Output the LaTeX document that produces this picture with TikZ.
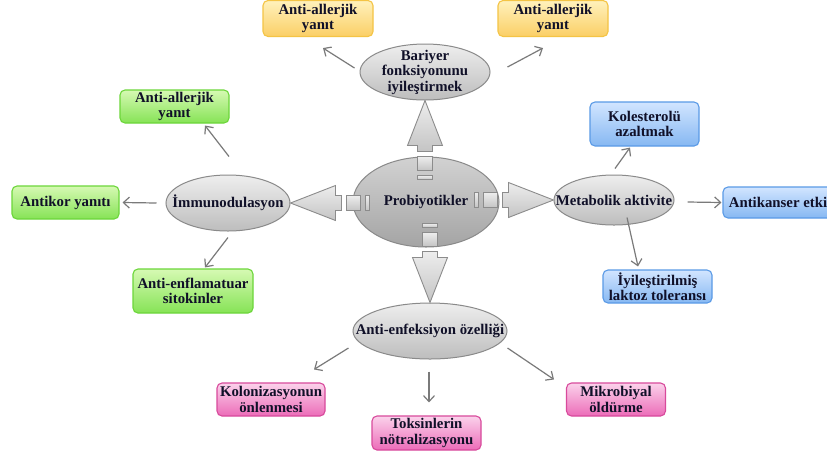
\documentclass[tikz,border=0pt]{standalone}
\usepackage{fontspec}
\setmainfont{Liberation Serif}
\usetikzlibrary{arrows.meta,calc,shapes.geometric}
\definecolor{txt}{HTML}{101028}
\definecolor{ellline}{HTML}{8A8A8A}
\definecolor{ellA}{HTML}{EEEEEE}
\definecolor{ellB}{HTML}{BDBDBD}
\definecolor{proA}{HTML}{D2D2D2}
\definecolor{proB}{HTML}{A4A4A4}
\definecolor{arrA}{HTML}{EDEDED}
\definecolor{arrB}{HTML}{C4C4C4}
\definecolor{arrline}{HTML}{8C8C8C}
\definecolor{yA}{HTML}{FFF1BC}
\definecolor{yB}{HTML}{FBCF66}
\definecolor{yline}{HTML}{F4C445}
\definecolor{gA}{HTML}{D6F9B3}
\definecolor{gB}{HTML}{86E356}
\definecolor{gline}{HTML}{6CD63A}
\definecolor{bA}{HTML}{D2E5FF}
\definecolor{bB}{HTML}{86B8F2}
\definecolor{bline}{HTML}{5A9AE6}
\definecolor{pA}{HTML}{FBD2EB}
\definecolor{pB}{HTML}{EC6CB8}
\definecolor{pline}{HTML}{D84A9C}
\definecolor{connc}{HTML}{7A7A7A}
\tikzset{
  blockarr/.pic={
    \draw[barrow] (0,0) -- (-45,-17.5) -- (-45,-7.5) -- (-51,-7.5) -- (-51,7.5) -- (-45,7.5) -- (-45,17.5) -- cycle;
    \draw[barrow] (-56,-7.5) rectangle (-70,7.5);
    \draw[barrow] (-75,-7.5) rectangle (-79,7.5);
  }
}
\begin{document}
\begin{tikzpicture}[x=1pt,y=-1pt,
  font=\fontsize{14.8}{15.5}\selectfont\bfseries,
  every label/.style={text=txt, align=center, inner sep=0pt},
  ell/.style={ellipse, draw=ellline, line width=1pt, top color=ellA, bottom color=ellB, inner sep=0pt},
  proell/.style={ellipse, draw=ellline, line width=1pt, top color=proA, bottom color=proB, inner sep=0pt},
  barrow/.style={draw=arrline, line width=0.9pt, top color=arrA, bottom color=arrB, line join=miter},
  box/.style={rectangle, rounded corners=5pt, line width=1.1pt, inner sep=0pt, align=center, text=txt},
  ybox/.style={box, draw=yline, top color=yA, bottom color=yB},
  gbox/.style={box, draw=gline, top color=gA, bottom color=gB},
  bbox/.style={box, draw=bline, top color=bA, bottom color=bB},
  pbox/.style={box, draw=pline, top color=pA, bottom color=pB},
  conn/.style={draw=connc, line width=1.2pt, -{Straight Barb[length=6pt,width=11pt]}}
]
\clip (0,0) rectangle (827,459);
\fill[white] (0,0) rectangle (827,459);

% ellipses
\node[proell, minimum width=146, minimum height=90, label={center:Probiyotikler}] (pro) at (426,202) {};
\node[ell, minimum width=130, minimum height=56, label={center:{Bariyer\\fonksiyonunu\\iyileştirmek}}] (bar) at (425,72) {};
\node[ell, minimum width=124, minimum height=56, label={center:İmmunodulasyon}] (imm) at (228,203) {};
\node[ell, minimum width=120, minimum height=50, label={center:Metabolik aktivite}] (met) at (614,200) {};
\node[ell, minimum width=154, minimum height=56, label={center:Anti-enfeksiyon özelliği}] (anti) at (430,331) {};

% block arrows
\pic[rotate=90] at (bar.south) {blockarr};
\pic[rotate=-90] at (anti.north) {blockarr};
\pic[rotate=180] at (imm.east) {blockarr};
\pic at (met.west) {blockarr};

% boxes
\node[ybox, minimum width=110, minimum height=36] (y1) at (318,18.5) {Anti-allerjik\\yanıt};
\node[ybox, minimum width=110, minimum height=36] (y2) at (553,18.5) {Anti-allerjik\\yanıt};
\node[gbox, minimum width=109, minimum height=33] (g1) at (174.5,106.5) {Anti-allerjik\\yanıt};
\node[gbox, minimum width=107, minimum height=33] (g2) at (65.5,202.5) {Antikor yanıtı};
\node[gbox, minimum width=120, minimum height=44] (g3) at (193,291) {Anti-enflamatuar\\sitokinler};
\node[bbox, minimum width=109, minimum height=44] (b1) at (644.5,124) {Kolesterolü\\azaltmak};
\node[bbox, minimum width=110, minimum height=31] (b2) at (778,202.5) {Antikanser etki};
\node[bbox, minimum width=109, minimum height=33] (b3) at (657.5,286.5) {İyileştirilmiş\\laktoz toleransı};
\node[pbox, minimum width=108, minimum height=33] (p1) at (271,399.5) {Kolonizasyonun\\önlenmesi};
\node[pbox, minimum width=109, minimum height=34] (p2) at (426.5,433) {Toksinlerin\\nötralizasyonu};
\node[pbox, minimum width=99, minimum height=33] (p3) at (616,399.5) {Mikrobiyal\\öldürme};

% connectors
\draw[conn] ($(bar.west)+(-5,-4)$) -- ($(y1.south)+(5,11)$);
\draw[conn] ($(bar.east)+(17,-5)$) -- ($(y2.south)+(-10,11)$);
\draw[conn] ($(imm.north)+(1,-18)$) -- ($(g1.south)+(30.5,2)$);
\draw[conn] ($(imm.west)+(-9,0)$) -- ($(g2.east)+(3,0)$);
\draw[conn] ($(imm.south)+(0,6)$) -- ($(g3.north)+(12,-1)$);
\draw[conn] ($(met.north)+(1,-6)$) -- ($(b1.south)+(-14.5,1)$);
\draw[conn] ($(met.east)+(13,2)$) -- ($(b2.west)+(-1,0)$);
\draw[conn] ($(met.south)+(13,-8)$) -- ($(b3.north)+(-19.5,-3)$);
\draw[conn] ($(anti.west)+(-4,17)$) -- ($(p1.north)+(43,-13)$);
\draw[conn] ($(anti.south)+(-1,12)$) -- ($(p2.north)+(2.5,-13)$);
\draw[conn] ($(anti.east)+(0,17)$) -- ($(p3.north)+(-62,-3)$);
\end{tikzpicture}
\end{document}
